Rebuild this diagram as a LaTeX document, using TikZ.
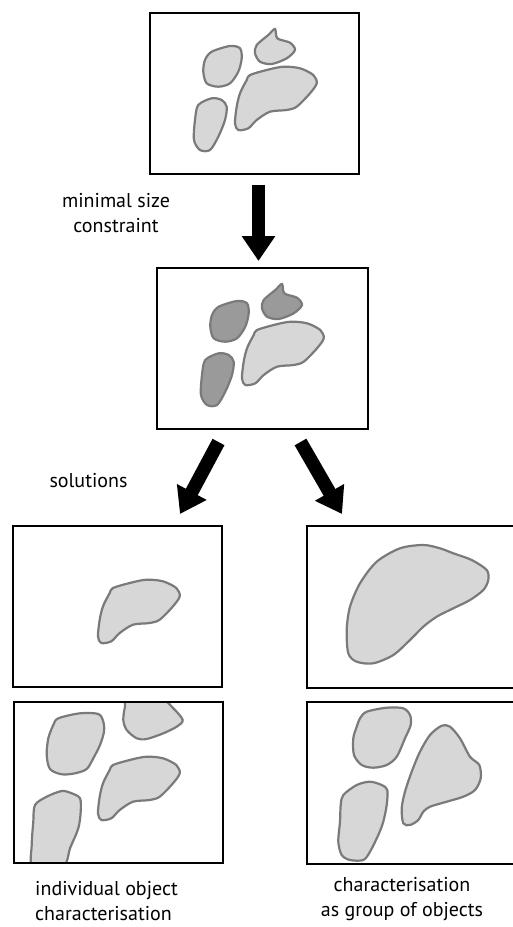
\documentclass[tikz,border=0pt]{standalone}
\usepackage{fontspec}
\setmainfont{PT Sans}
\usetikzlibrary{arrows.meta}
\definecolor{blobfill}{HTML}{D7D7D7}
\definecolor{blobdark}{HTML}{9A9A9A}
\definecolor{blobline}{HTML}{7A7A7A}
\pgfdeclarelayer{bg}
\pgfsetlayers{bg,main}
% blob outlines (pixel coordinates of the top frame)
\newcommand\shpA{plot[smooth cycle] coordinates {(211.7,51.7) (230,46) (240,48.3) (241.7,58.3) (238.3,71.7) (230,83.3) (218.3,86.7) (206.7,83.3) (203.3,71.7) (205,60)}}
\newcommand\shpB{plot[smooth cycle] coordinates {(256.7,45) (268.3,35) (275,29) (277.3,38.3) (290,42.7) (295,50) (286.7,58.3) (271.7,64) (260,61.7) (255,53.3)}}
\newcommand\shpC{plot[smooth cycle] coordinates {(250,75) (266.7,70) (283.3,66.7) (300,68.3) (313.3,75) (316.7,83.3) (310,93.3) (296.7,106.7) (286.7,110) (270,111.7) (256.7,120) (248.3,128.3) (238.3,130) (235,123.3) (236.7,106.7) (240,93.3) (246.7,80)}}
\newcommand\shpD{plot[smooth cycle] coordinates {(198.3,105) (211.7,98.3) (221.7,100) (226.7,106.7) (225,120) (218.3,136.7) (210,150) (200,150) (194,140) (195,120)}}
\begin{document}
\begin{tikzpicture}[x=1pt,y=-1pt,
  frame/.style={draw=black, line width=2.9pt, inner sep=0pt, outer sep=0pt},
  blob/.style={draw=blobline, line width=2.2pt, fill=blobfill},
  darkblob/.style={blob, fill=blobdark},
  bigarrow/.style={line width=13.5pt, -{Triangle[width=32pt,length=25pt]}},
  lbl/.style={font=\fontsize{20}{25}\selectfont, inner sep=0pt}]
\useasboundingbox (0,0) rectangle (513,927);
% frames
\node[frame, minimum width=209pt, minimum height=161pt] (b1) at (254.5,93.5) {};
\node[frame, minimum width=211pt, minimum height=161pt] (b2) at (262.5,348.5) {};
\node[frame, minimum width=209pt, minimum height=161pt] (b3) at (117.5,606.5) {};
\node[frame, minimum width=209pt, minimum height=162pt] (b4) at (411.5,607) {};
\node[frame, minimum width=209pt, minimum height=161pt] (b5) at (118.5,782.5) {};
\node[frame, minimum width=209pt, minimum height=162pt] (b6) at (411.5,783) {};
\begin{pgfonlayer}{bg}
  % top frame
  \draw[blob] \shpA; \draw[blob] \shpB; \draw[blob] \shpC; \draw[blob] \shpD;
  % middle frame
  \begin{scope}[shift={(7,255)}]
    \draw[darkblob] \shpA; \draw[darkblob] \shpB; \draw[blob] \shpC; \draw[darkblob] \shpD;
  \end{scope}
  % left upper solution
  \begin{scope}[shift={(-137,513)}]
    \draw[blob] \shpC;
  \end{scope}
  % right upper solution
  \draw[blob] plot[smooth cycle] coordinates {(346.7,630) (350,606.7) (360,583.3) (376.7,561.7) (400,548.3) (423.3,545) (440,548.3) (453.3,553.3) (471.7,560) (486.7,570) (488.3,580) (483.3,590) (470,600) (453.3,608.3) (436.7,616.7) (423.3,626.7) (410,640) (393.3,655) (373.3,663.3) (356.7,661.7) (348.3,653.3)};
  % left lower solution
  \begin{scope}
    \clip (b5.north west) rectangle (b5.south east);
    \begin{scope}[shift={(-137,690)}]
      \draw[blob] \shpC;
    \end{scope}
    \draw[blob] plot[smooth cycle] coordinates {(58.3,718.3) (80,713.3) (98.3,714) (103.3,721.7) (104,731.7) (100,745) (93.3,758.3) (86.7,769) (75,773.3) (61.7,774.3) (50,769) (46.7,755) (48.3,738.3) (53.3,725)};
    \draw[blob] plot[smooth cycle] coordinates {(125,706.7) (128.3,699) (160,698) (173.3,708.3) (182.7,720) (176.7,726.7) (163.3,733.3) (146.7,739) (136.7,738.3) (126.7,730) (123.3,720)};
    \draw[blob] plot[smooth cycle] coordinates {(35,805) (46.7,796.7) (61.7,791) (71.7,793.3) (80,798.3) (80.7,811.7) (78.3,828.3) (70,848.3) (63.3,866) (33,868) (31.7,845) (33.3,821.7)};
  \end{scope}
  % right lower solution
  \draw[blob] plot[smooth cycle] coordinates {(360,718.3) (366.7,711.7) (386.7,707.7) (403.3,708.3) (410,715) (410.7,725) (405,738.3) (396.7,756.7) (386.7,765) (373.3,767.7) (361.7,765) (354,755) (353.3,738.3) (356.7,726.7)};
  \draw[blob] plot[smooth cycle] coordinates {(403.3,823.3) (401.7,808.3) (405,791.7) (411.7,771.7) (420,751.7) (430,735) (441.7,725.7) (450,726.7) (460,738.3) (470,756.7) (479.3,765) (480.7,778.3) (475,790) (463.3,796.7) (446.7,801.7) (430,806.7) (423.3,811.7) (418.3,820) (410,825)};
  \draw[blob] plot[smooth cycle] coordinates {(343.3,795) (356.7,785) (370,781.7) (381.7,785) (387.3,790) (386.7,805) (383.3,821.7) (378.3,835) (370,851.7) (363.3,860) (350,860) (341.7,855) (338.3,841.7) (340,821.7) (340.7,805)};
\end{pgfonlayer}
% arrows
\coordinate (a1s) at (258.5,185);
\coordinate (a1e) at (258.5,261);
\coordinate (a2s) at (218.5,442);
\coordinate (a2e) at (180,514);
\coordinate (a3s) at (300.5,442);
\coordinate (a3e) at (342,514);
\draw[bigarrow] (a1s) -- (a1e);
\draw[bigarrow] (a2s) -- (a2e);
\draw[bigarrow] (a3s) -- (a3e);
% labels
\node[lbl, align=center] (t1) at (116,213.3) {minimal size\\constraint};
\node[lbl] (t2) at (88.5,481) {solutions};
\node[lbl, align=left, anchor=west] (t3) at (35,900.6) {individual object\\characterisation};
\node[lbl, align=center] (t4) at (402,899.2) {characterisation\\as group of objects};
\end{tikzpicture}
\end{document}
